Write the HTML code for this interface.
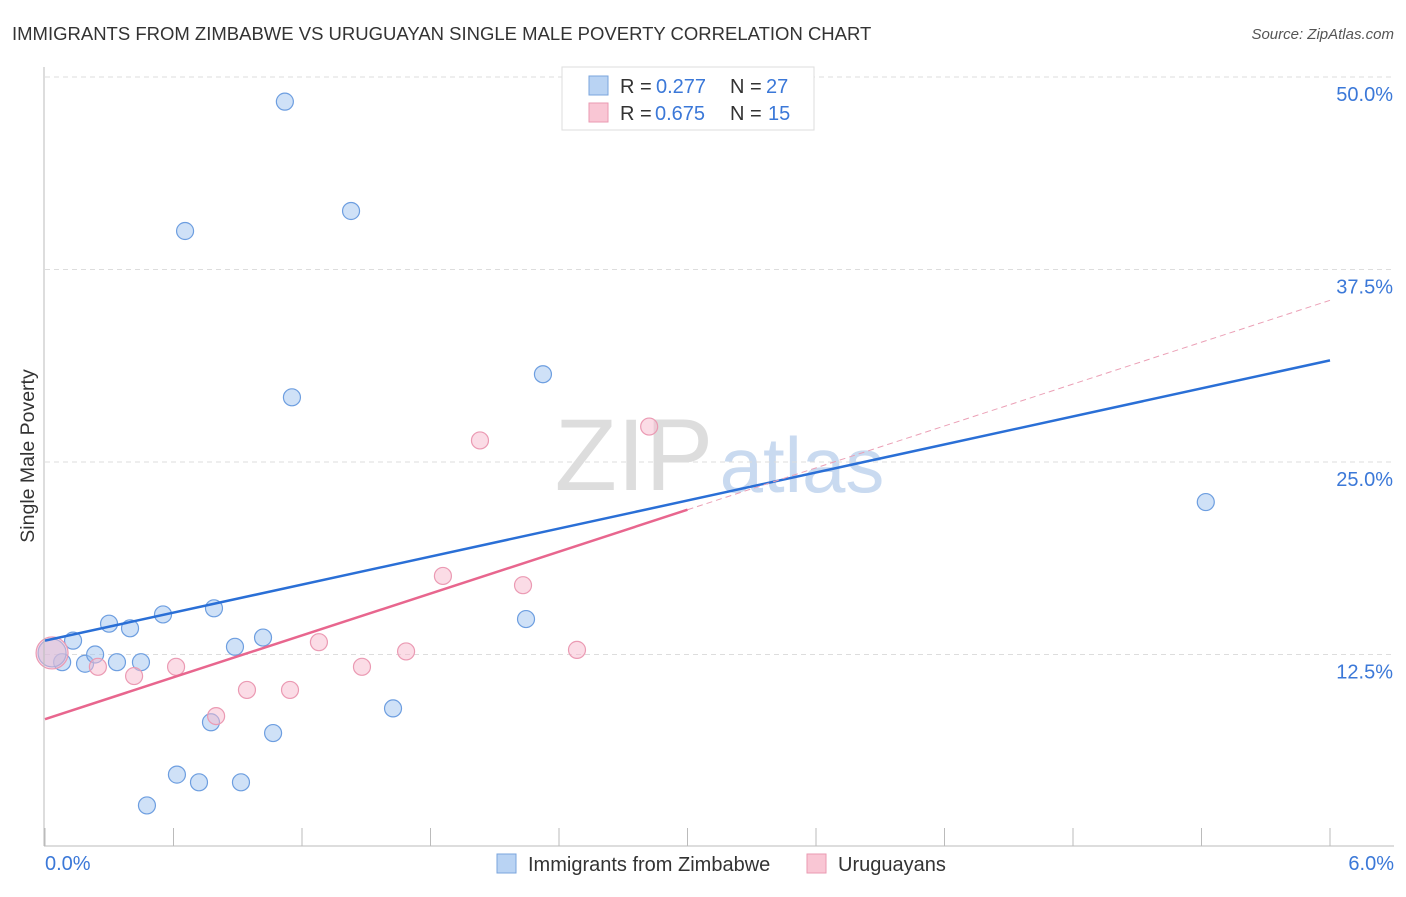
<!DOCTYPE html>
<html><head><meta charset="utf-8"><style>
body{margin:0;background:#fff;font-family:"Liberation Sans",sans-serif}
svg text{font-family:"Liberation Sans",sans-serif}
</style></head><body>
<svg id="c" width="1406" height="892" xmlns="http://www.w3.org/2000/svg">
<text x="12" y="40" font-size="18.5" fill="#333">IMMIGRANTS FROM ZIMBABWE VS URUGUAYAN SINGLE MALE POVERTY CORRELATION CHART</text>
<text x="1394" y="39" font-size="15" fill="#555" font-style="italic" text-anchor="end">Source: ZipAtlas.com</text>
<text x="634" y="490" font-size="102" fill="#ddd" font-family="Liberation Serif" text-anchor="middle">ZIP</text>
<text x="802" y="492" font-size="78" fill="#c9daf0" text-anchor="middle">atlas</text>
<text transform="translate(34,456) rotate(-90)" font-size="19.5" fill="#333" text-anchor="middle">Single Male Poverty</text>
<g id="grid"></g><g id="pts"></g><g id="lines"></g>
<line x1="44" y1="67" x2="44" y2="846" stroke="#bbb"/>
<line x1="44" y1="846" x2="1394" y2="846" stroke="#bbb"/>
<text x="45" y="870" font-size="20" fill="#3b78d8">0.0%</text>
<text x="1394" y="870" font-size="20" fill="#3b78d8" text-anchor="end">6.0%</text>
<g>
<rect x="562" y="67" width="252" height="63" fill="#fff" stroke="#ddd"/>
<rect x="589" y="76" width="19" height="19" fill="#b9d3f3" stroke="#7aa5dc"/>
<rect x="589" y="103" width="19" height="19" fill="#f9c6d4" stroke="#ea9ab2"/>
<text x="620" y="93" font-size="20" fill="#333">R =</text>
<text x="656" y="93" font-size="20" fill="#3b78d8">0.277</text>
<text x="730" y="93" font-size="20" fill="#333">N =</text>
<text x="766" y="93" font-size="20" fill="#3b78d8">27</text>
<text x="620" y="120" font-size="20" fill="#333">R =</text>
<text x="655" y="120" font-size="20" fill="#3b78d8">0.675</text>
<text x="730" y="120" font-size="20" fill="#333">N =</text>
<text x="768" y="120" font-size="20" fill="#3b78d8">15</text>
</g>
<g>
<rect x="497" y="854" width="19" height="19" fill="#b9d3f3" stroke="#7aa5dc"/>
<text x="528" y="871" font-size="20" fill="#333">Immigrants from Zimbabwe</text>
<rect x="807" y="854" width="19" height="19" fill="#f9c6d4" stroke="#ea9ab2"/>
<text x="838" y="871" font-size="20" fill="#333">Uruguayans</text>
</g>
</svg>
<script>
const yTicks=[12.5,25,37.5,50];
const yTickLabels=["12.5%","25.0%","37.5%","50.0%"];
const xTicks=[0,0.6,1.2,1.8,2.4,3.0,3.6,4.2,4.8,5.4,6.0];
const blueX=[1.12,0.654,1.429,1.153,2.325,5.42,0.131,0.08,0.187,0.234,0.299,0.336,0.397,0.448,0.551,0.789,0.887,1.018,0.775,1.065,0.616,0.719,0.915,0.476,1.625,2.246,0.033];
const blueY=[48.4,40.0,41.3,29.2,30.7,22.4,13.4,12.0,11.9,12.5,14.5,12.0,14.2,12.0,15.1,15.5,13.0,13.6,8.1,7.4,4.7,4.2,4.2,2.7,9.0,14.8,12.6];
const pinkX=[0.033,0.247,0.416,0.612,0.799,0.943,1.144,1.279,1.480,1.686,1.858,2.031,2.232,2.484,2.821];
const pinkY=[12.6,11.7,11.1,11.7,8.5,10.2,10.2,13.3,11.7,12.7,17.6,26.4,17.0,12.8,27.3];
const blueTrend=[[0,13.4],[6,31.6]];
const pinkTrend=[[0,8.3],[3.0,21.9],[6,35.5]];
const NS="http://www.w3.org/2000/svg";
const X=v=>45+v/6*1285, Y=v=>847-v/12.5*192.5;
function mk(t,a,p){const e=document.createElementNS(NS,t);for(const k in a)e.setAttribute(k,a[k]);document.getElementById(p).appendChild(e);return e;}
yTicks.forEach((t,i)=>{
 const l=mk('line',{x1:45,x2:1394,y1:Y(t),y2:Y(t),stroke:'#ddd','stroke-dasharray':'5,4'},'grid');
 
 
 const tx=mk('text',{x:1393,y:Y(t)+24,'font-size':20,fill:'#3b78d8','text-anchor':'end'},'grid');tx.textContent=yTickLabels[i];
 
 
});
xTicks.forEach(t=>{
 const l=mk('line',{x1:X(t),x2:X(t),y1:828,y2:846,stroke:'#bbb'},'grid');
 
 
});
blueX.forEach((x,i)=>{
 const c=mk('circle',{cx:X(x),cy:Y(blueY[i]),r:i==26?14:8.5,fill:'rgba(160,195,240,0.5)',stroke:'#6d9ee0','stroke-width':1.2},'pts');
 
 
});
pinkX.forEach((x,i)=>{
 const c=mk('circle',{cx:X(x),cy:Y(pinkY[i]),r:i==0?16:8.5,fill:'rgba(248,185,205,0.5)',stroke:'#eb9ab3','stroke-width':1.2},'pts');
 
 
});
let l=mk('line',{x1:X(blueTrend[0][0]),y1:Y(blueTrend[0][1]),x2:X(blueTrend[1][0]),y2:Y(blueTrend[1][1]),stroke:'#2a6fd6','stroke-width':2.5},'lines');


l=mk('line',{x1:X(pinkTrend[0][0]),y1:Y(pinkTrend[0][1]),x2:X(pinkTrend[1][0]),y2:Y(pinkTrend[1][1]),stroke:'#e8668e','stroke-width':2.5},'lines');


l=mk('line',{x1:X(pinkTrend[1][0]),y1:Y(pinkTrend[1][1]),x2:X(pinkTrend[2][0]),y2:Y(pinkTrend[2][1]),stroke:'#eba0b6','stroke-width':1,'stroke-dasharray':'6,4'},'lines');


</script>
</body></html>
